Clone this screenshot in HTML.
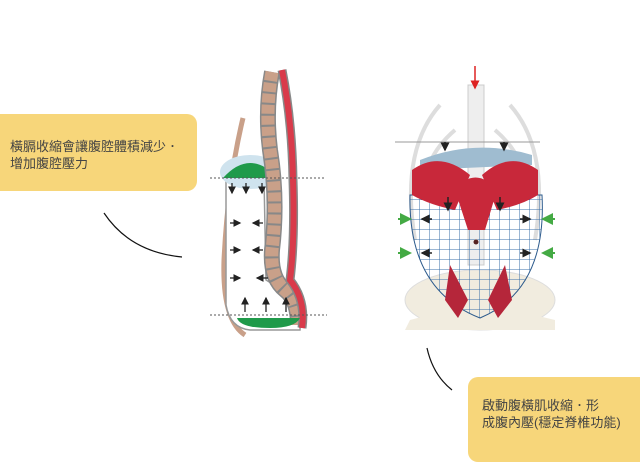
<!DOCTYPE html><html><head><meta charset="utf-8"><style>
body{margin:0;width:640px;height:452px;background:#fff;overflow:hidden;position:relative;font-family:"Liberation Sans","Noto Sans CJK TC",sans-serif}
.box{position:absolute;background:#f7d67a;border-radius:10px;color:#444;font-size:13px;line-height:17px}
</style></head><body>
<svg width="640" height="452" style="position:absolute;left:0;top:0">
<defs>
<pattern id="grid" width="10" height="10" patternUnits="userSpaceOnUse"><path d="M10 0V10M0 10H10" stroke="#3a6fa8" stroke-width="1" fill="none"/></pattern>
<marker id="ah" markerWidth="6" markerHeight="6" refX="5" refY="3" orient="auto"><path d="M0,0L6,3L0,6z" fill="#222"/></marker>
<marker id="ag" markerWidth="6" markerHeight="6" refX="5" refY="3" orient="auto"><path d="M0,0L6,3L0,6z" fill="#4a4"/></marker>
<marker id="ar" markerWidth="6" markerHeight="6" refX="5" refY="3" orient="auto"><path d="M0,0L6,3L0,6z" fill="#d22"/></marker>
</defs>
<path d="M104 213 Q130 252 182 257" stroke="#111" fill="none" stroke-width="1.2"/>
<path d="M427 348 Q433 375 452 390" stroke="#111" fill="none" stroke-width="1.2"/>
<!-- left figure -->
<path d="M243 118 Q228 180 224 260 Q222 320 245 335" stroke="#c9a089" stroke-width="5" fill="none"/>
<path d="M226 178 L226 305 Q230 328 250 330 L300 330 Q302 300 282 290 L266 280 L264 178Z" fill="#fff" stroke="#999" stroke-width="1.5"/>
<ellipse cx="250" cy="172" rx="30" ry="17" fill="#cfe3ee"/>
<path d="M223 178 Q250 148 278 178 Z" fill="#1f9a4a"/>
<path d="M272 72 Q265 110 270 150 Q278 200 272 250 Q270 278 285 290 Q298 300 298 325" stroke="#888" stroke-width="16" fill="none"/>
<path d="M272 72 Q265 110 270 150 Q278 200 272 250 Q270 278 285 290 Q298 300 298 325" stroke="#c9a089" stroke-width="13" fill="none" stroke-dasharray="9 2"/>
<path d="M282 70 Q292 120 293 180 Q295 240 290 280 Q306 300 302 328" stroke="#888" stroke-width="9" fill="none"/>
<path d="M282 70 Q292 120 293 180 Q295 240 290 280 Q306 300 302 328" stroke="#d93a4a" stroke-width="6" fill="none"/>
<path d="M237 318 L300 318 Q295 328 270 328 Q240 328 237 318Z" fill="#1f9a4a"/>
<line x1="210" y1="178" x2="325" y2="178" stroke="#555" stroke-dasharray="2 2"/>
<line x1="210" y1="315" x2="327" y2="315" stroke="#555" stroke-dasharray="2 2"/>
<g stroke="#222" stroke-width="1.3">
<line x1="232" y1="183" x2="232" y2="193" marker-end="url(#ah)"/><line x1="246" y1="183" x2="246" y2="193" marker-end="url(#ah)"/><line x1="262" y1="183" x2="262" y2="193" marker-end="url(#ah)"/>
<line x1="230" y1="223" x2="240" y2="223" marker-end="url(#ah)"/><line x1="263" y1="223" x2="253" y2="223" marker-end="url(#ah)"/>
<line x1="230" y1="250" x2="240" y2="250" marker-end="url(#ah)"/><line x1="263" y1="250" x2="253" y2="250" marker-end="url(#ah)"/>
<line x1="230" y1="278" x2="240" y2="278" marker-end="url(#ah)"/><line x1="268" y1="278" x2="257" y2="278" marker-end="url(#ah)"/>
<line x1="245" y1="312" x2="245" y2="298" marker-end="url(#ah)"/><line x1="266" y1="312" x2="266" y2="298" marker-end="url(#ah)"/><line x1="286" y1="312" x2="286" y2="298" marker-end="url(#ah)"/>
</g>
<!-- right figure -->
<g fill="none" stroke="#ddd" stroke-width="4">
<path d="M440 105 Q400 150 415 240"/><path d="M510 105 Q550 150 535 240"/>
<path d="M455 130 Q420 160 425 200"/><path d="M495 130 Q530 160 525 200"/>
</g>
<rect x="468" y="85" width="16" height="180" fill="#eee" stroke="#ccc"/>
<ellipse cx="480" cy="300" rx="75" ry="30" fill="#f1ecdf" stroke="#ddd"/>
<path d="M410 320 Q480 300 555 320 L555 330 L405 330Z" fill="#f1ecdf"/>
<path d="M410 195 Q408 290 480 318 Q547 290 542 195 Z" fill="url(#grid)" stroke="#2c5a8c"/>
<path d="M420 160 Q475 138 532 155 L532 165 L420 170Z" fill="#9fbcd0"/>
<path d="M412 170 Q440 150 470 175 L455 210 Q430 205 412 195Z" fill="#c8283a"/>
<path d="M538 170 Q510 150 482 175 L497 210 Q522 205 538 195Z" fill="#c8283a"/>
<path d="M455 190 Q475 165 497 190 L485 230 L468 230Z" fill="#c8283a"/>
<path d="M450 265 L468 300 L458 318 L445 300Z M505 265 L488 300 L498 318 L512 300Z" fill="#b5263a"/>
<line x1="395" y1="142" x2="540" y2="142" stroke="#999"/>
<line x1="475" y1="66" x2="475" y2="88" stroke="#d22" stroke-width="1.5" marker-end="url(#ar)"/>
<circle cx="476" cy="242" r="2.5" fill="#522"/>
<g stroke="#222" stroke-width="1.5">
<line x1="445" y1="142" x2="445" y2="150" marker-end="url(#ah)"/><line x1="504" y1="142" x2="504" y2="150" marker-end="url(#ah)"/>
<line x1="448" y1="197" x2="448" y2="210" marker-end="url(#ah)"/><line x1="500" y1="197" x2="500" y2="210" marker-end="url(#ah)"/>
<line x1="432" y1="219" x2="422" y2="219" marker-end="url(#ah)"/><line x1="520" y1="219" x2="530" y2="219" marker-end="url(#ah)"/>
<line x1="432" y1="253" x2="422" y2="253" marker-end="url(#ah)"/><line x1="520" y1="253" x2="530" y2="253" marker-end="url(#ah)"/>
</g>
<g stroke="#4a4" stroke-width="2">
<line x1="398" y1="219" x2="410" y2="219" marker-end="url(#ag)"/><line x1="555" y1="219" x2="543" y2="219" marker-end="url(#ag)"/>
<line x1="398" y1="253" x2="410" y2="253" marker-end="url(#ag)"/><line x1="555" y1="253" x2="543" y2="253" marker-end="url(#ag)"/>
</g>
</svg>
<div class="box" style="left:-10px;top:114px;width:207px;height:77px"><div style="padding:24px 0 0 20px">橫膈收縮會讓腹腔體積減少．<br>增加腹腔壓力</div></div>
<div class="box" style="left:468px;top:377px;width:182px;height:85px"><div style="padding:20px 0 0 14px">啟動腹橫肌收縮．形<br>成腹內壓(穩定脊椎功能)</div></div>
</body></html>
